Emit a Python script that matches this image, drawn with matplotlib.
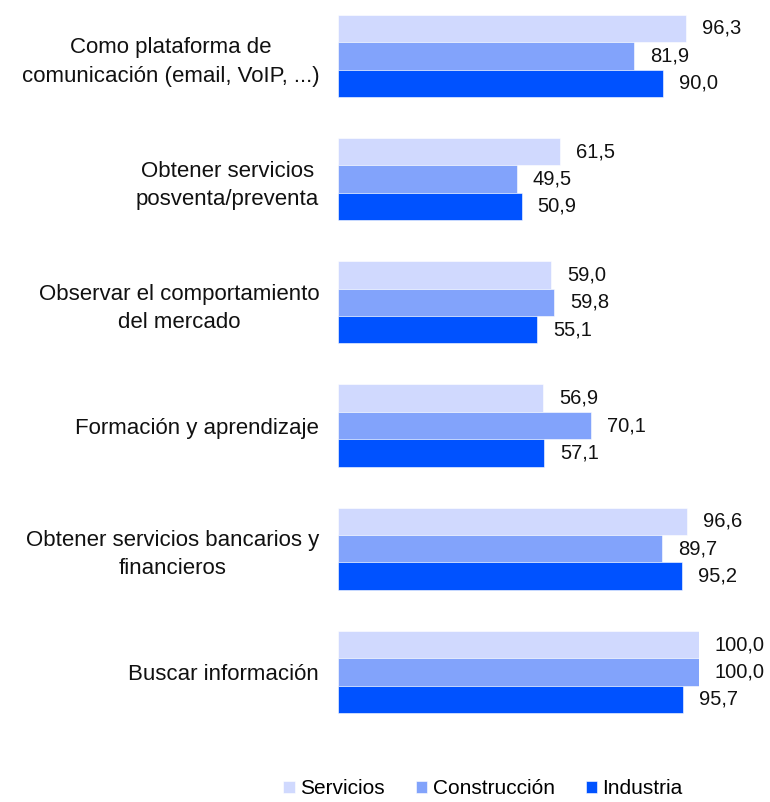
import matplotlib
matplotlib.use("Agg")
import matplotlib.pyplot as plt
import numpy as np

plt.rcParams['font.family'] = ['Liberation Sans', 'DejaVu Sans']

# categories, top to bottom
categories = [
    "Como plataforma de\ncomunicación (email, VoIP, ...)",
    "Obtener servicios\nposventa/preventa",
    "Observar el comportamiento\ndel mercado",
    "Formación y aprendizaje",
    "Obtener servicios bancarios y\nfinancieros",
    "Buscar información",
]
series_names = ["Servicios", "Construcción", "Industria"]
servicios = [96.3, 61.5, 59.0, 56.9, 96.6, 100.0]
construccion = [81.9, 49.5, 59.8, 70.1, 89.7, 100.0]
industria = [90.0, 50.9, 55.1, 57.1, 95.2, 95.7]
colors = ["#D0D9FE", "#82A3FB", "#0052FF"]

fig = plt.figure(figsize=(7.7, 8.02), dpi=100)
ax = fig.add_axes([338 / 770, (802 - 720) / 802, 361 / 770, 710 / 802])

y = np.arange(len(categories))
h = 0.2225
for i, (vals, name, col) in enumerate(zip([servicios, construccion, industria], series_names, colors)):
    pos = y + (i - 1) * h
    ax.barh(pos, vals, height=h, color=col, label=name, edgecolor='white', linewidth=0.4)
    # value labels, decimal comma
    for p, v in zip(pos, vals):
        ax.annotate(f"{v:.1f}".replace('.', ','), (v, p), xytext=(11.5, 0),
                    textcoords='offset points', ha='left', va='center',
                    fontsize=14.5, color='#111111', annotation_clip=False)

ax.set_xlim(0, 100)
ax.set_ylim(5 + 48 / 123.2, -45.8 / 123.2)
ax.set_yticks(y)
ax.set_yticklabels(categories, fontsize=16, linespacing=1.45, color='#111111')
for lab in ax.get_yticklabels():
    lab.set_multialignment('center')
ax.tick_params(axis='y', length=0, pad=13.5)
ax.set_xticks([])
for s in ax.spines.values():
    s.set_visible(False)

fig.legend(loc='center', bbox_to_anchor=(483 / 770, 1 - 789 / 802), ncol=3, frameon=False,
           fontsize=15, handlelength=0.55, handleheight=0.55, handletextpad=0.25,
           columnspacing=1.5, borderpad=0)

fig.savefig("out.png", dpi=100)
